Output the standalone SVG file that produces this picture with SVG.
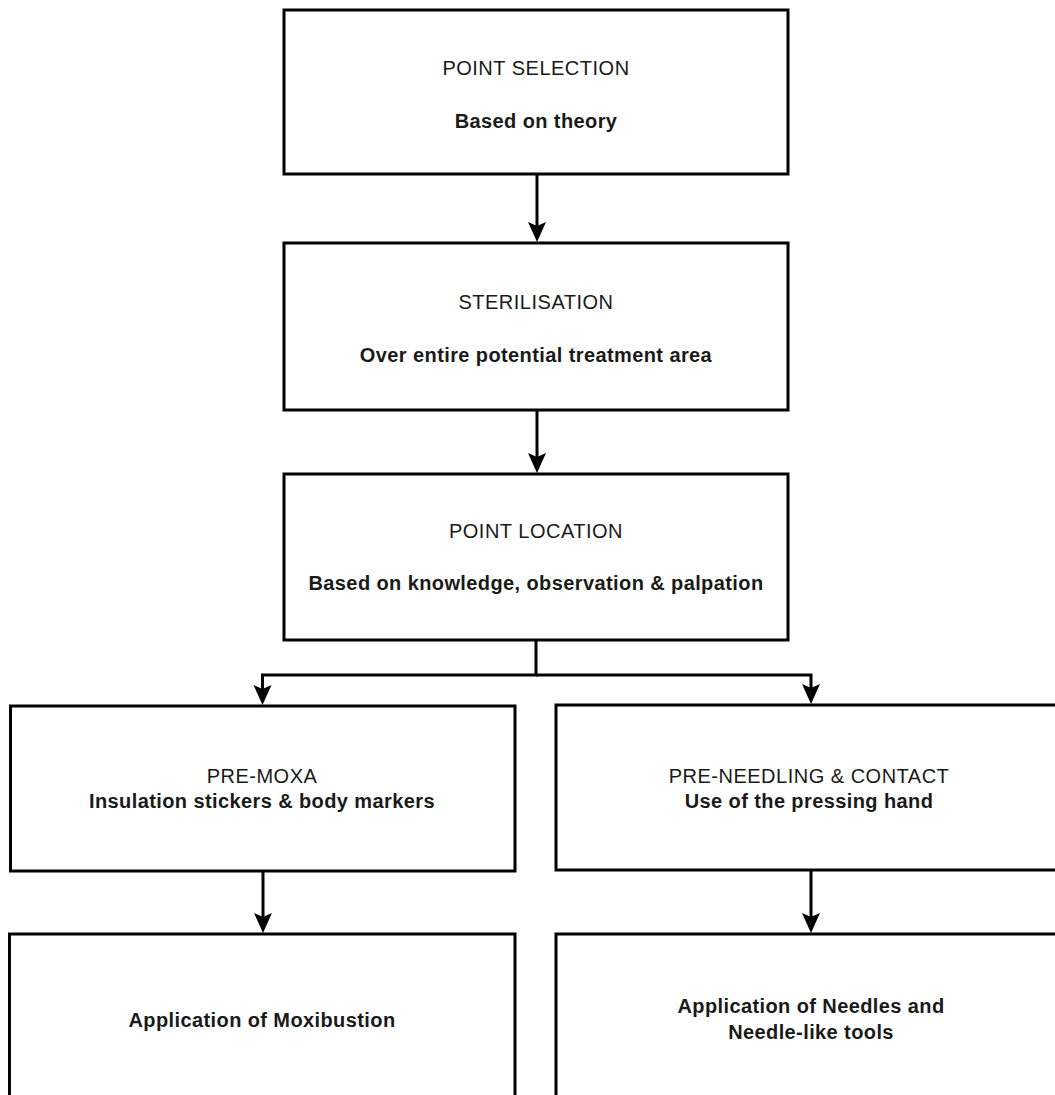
<svg xmlns="http://www.w3.org/2000/svg" width="1055" height="1095" viewBox="0 0 1055 1095">
  <style>
    .box { fill: #ffffff; stroke: #000000; stroke-width: 3; }
    .wire { fill: none; stroke: #000000; stroke-width: 3; }
    .title { font-family: "Liberation Sans", Arial, sans-serif; font-size: 20px; letter-spacing: 0.5px; fill: #1a1a1a; text-anchor: middle; }
    .sub { font-family: "Liberation Sans", Arial, sans-serif; font-size: 20px; font-weight: bold; letter-spacing: 0.4px; fill: #1a1a1a; text-anchor: middle; }
  </style>
  <defs>
    <!-- solid head with a shallow notch; the tip sits 7px past the line end -->
    <marker id="arrow" viewBox="0 0 20 20" refX="13" refY="10" markerWidth="20" markerHeight="20" markerUnits="userSpaceOnUse" orient="auto">
      <path d="M0,1 L20,10 L0,19 L4,10 Z" fill="#000000"/>
    </marker>
  </defs>
  <rect width="1055" height="1095" fill="#ffffff"/>

  <g id="connectors">
    <line class="wire" x1="537" y1="174" x2="537" y2="235" marker-end="url(#arrow)"/>
    <line class="wire" x1="537" y1="410" x2="537" y2="466" marker-end="url(#arrow)"/>
    <polyline class="wire" points="536,640 536,675 262.5,675 262.5,698" marker-end="url(#arrow)"/>
    <polyline class="wire" points="536,675 811,675 811,697" marker-end="url(#arrow)"/>
    <line class="wire" x1="263" y1="871" x2="263" y2="926" marker-end="url(#arrow)"/>
    <line class="wire" x1="811" y1="870" x2="811" y2="926" marker-end="url(#arrow)"/>
  </g>

  <g id="point-selection">
    <rect class="box" x="284" y="10" width="504" height="164"/>
    <text class="title" x="536" y="75">POINT SELECTION</text>
    <text class="sub" x="536" y="128">Based on theory</text>
  </g>

  <g id="sterilisation">
    <rect class="box" x="284" y="243" width="504" height="167"/>
    <text class="title" x="536" y="309">STERILISATION</text>
    <text class="sub" x="536" y="362">Over entire potential treatment area</text>
  </g>

  <g id="point-location">
    <rect class="box" x="284" y="474" width="504" height="166"/>
    <text class="title" x="536" y="538">POINT LOCATION</text>
    <text class="sub" x="536" y="590">Based on knowledge, observation &amp; palpation</text>
  </g>

  <g id="pre-moxa">
    <rect class="box" x="10.5" y="706" width="504.5" height="165"/>
    <text class="title" x="262" y="783">PRE-MOXA</text>
    <text class="sub" x="262" y="808">Insulation stickers &amp; body markers</text>
  </g>

  <g id="pre-needling">
    <rect class="box" x="556" y="705" width="520" height="165"/>
    <text class="title" x="809" y="783">PRE-NEEDLING &amp; CONTACT</text>
    <text class="sub" x="809" y="808">Use of the pressing hand</text>
  </g>

  <g id="moxibustion">
    <rect class="box" x="9.5" y="934" width="505.5" height="180"/>
    <text class="sub" x="262" y="1027">Application of Moxibustion</text>
  </g>

  <g id="needles">
    <rect class="box" x="556" y="934" width="520" height="180"/>
    <text class="sub" x="811" y="1013">Application of Needles and</text>
    <text class="sub" x="811" y="1039">Needle-like tools</text>
  </g>
</svg>
